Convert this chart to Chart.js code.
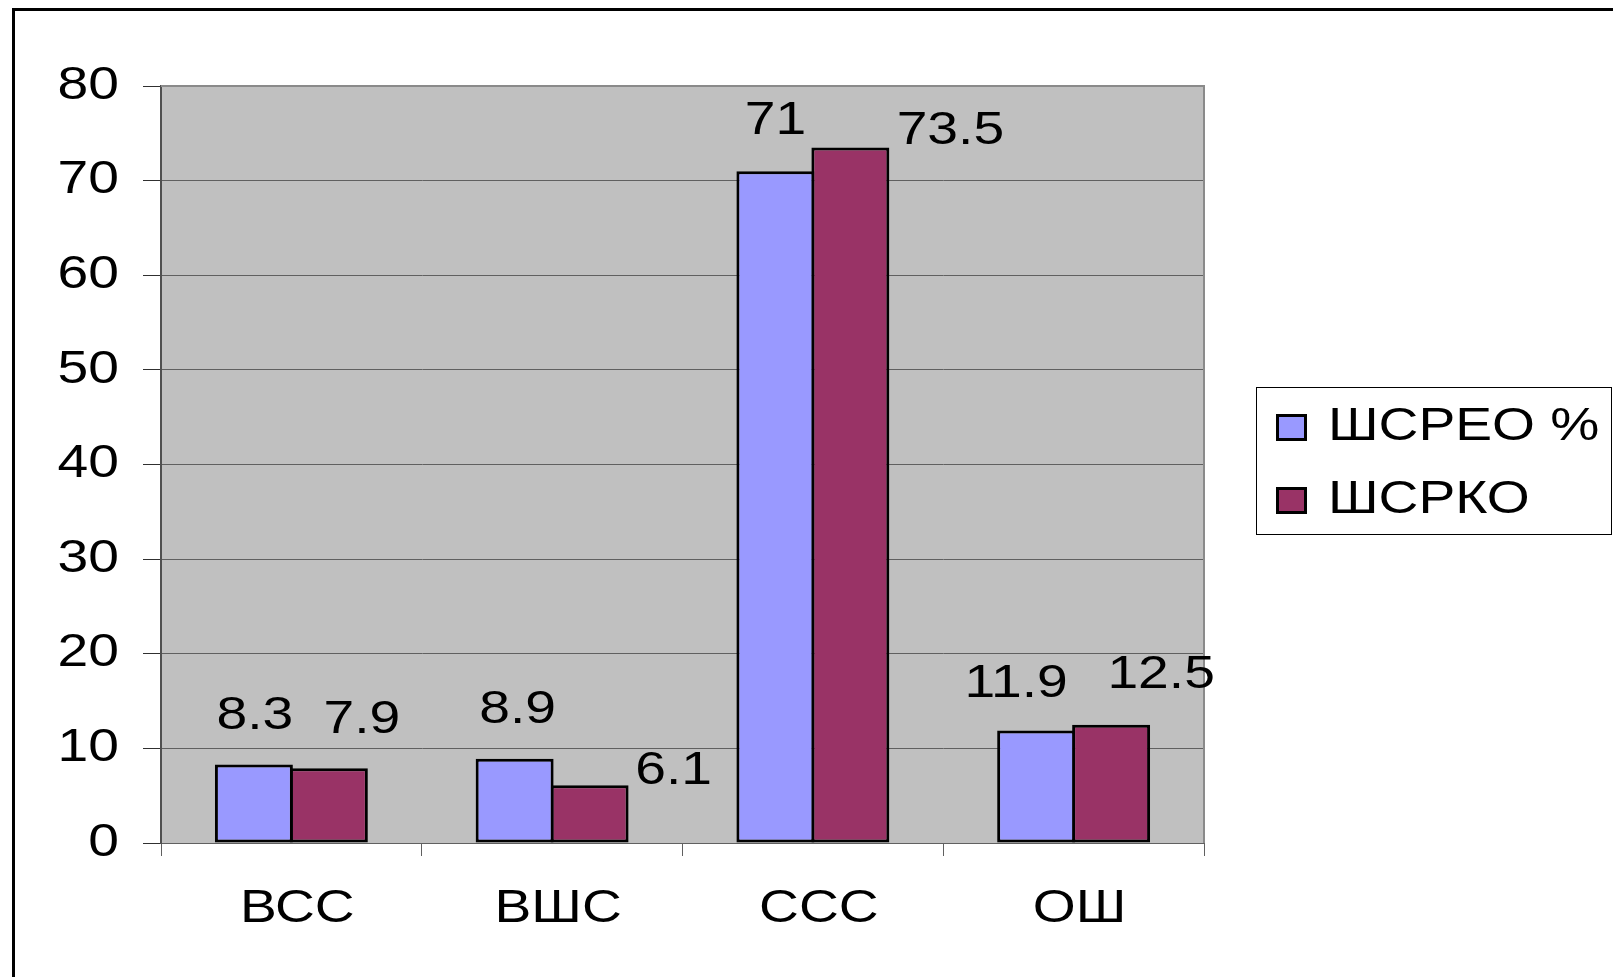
<!DOCTYPE html>
<html>
<head>
<meta charset="utf-8">
<script src="https://cdn.jsdelivr.net/npm/chart.js@4.4.1/dist/chart.umd.min.js"></script>
<style>
  html, body { margin: 0; padding: 0; background: #fff; }
  #wrap { width: 1613px; height: 977px; }
</style>
</head>
<body>
<div id="wrap"><canvas id="chart" width="1613" height="977"></canvas></div>
<script>
// Données du graphique
const categories = ['ВСС', 'ВШС', 'ССС', 'ОШ'];
const seriesNames = ['ШСРЕО %', 'ШСРКО'];
const shsreoValues = [8.3, 8.9, 71, 11.9];
const shsrkoValues = [7.9, 6.1, 73.5, 12.5];
const yMin = 0;
const yMax = 80;
const yStep = 10;

// Décalage des étiquettes de valeurs (dx, hauteur au-dessus de la barre), comme dans Excel
const labelShift = [
    [[1, 35], [3, 36], [0, 37], [-20, 33]],
    [[33, 35], [84, 1], [100, 4], [50, 37]]
];

const FONT = "'Liberation Sans', Arial, sans-serif";
const TEXT_STRETCH = 1.2; // le texte de l'original est étiré horizontalement
const colors = ['#9999FF', '#993366'];

// étirement horizontal du texte autour du point d'ancrage
function stretchText(ctx) {
    if (ctx._stretched) return;
    const orig = ctx.fillText.bind(ctx);
    ctx.fillText = function (text, x, y) {
        this.save();
        this.translate(x, y);
        this.scale(TEXT_STRETCH, 1);
        orig(text, 0, 0);
        this.restore();
    };
    ctx._stretched = true;
}

// fond gris de la zone de tracé + cadre extérieur
const backgroundPlugin = {
    id: 'backgroundPlugin',
    beforeInit(chart) {
        stretchText(chart.ctx);
    },
    beforeDraw(chart) {
        const ctx = chart.ctx;
        const a = chart.chartArea;
        ctx.save();
        ctx.fillStyle = '#fff';
        ctx.fillRect(0, 0, chart.width, chart.height);
        ctx.strokeStyle = '#000';
        ctx.lineWidth = 3;
        ctx.strokeRect(13.5, 9.5, chart.width + 50, chart.height + 50);
        ctx.fillStyle = '#C0C0C0';
        ctx.fillRect(a.left, a.top, a.right - a.left, a.bottom - a.top);
        ctx.restore();
    },
    beforeDatasetsDraw(chart) {
        const ctx = chart.ctx;
        const a = chart.chartArea;
        ctx.save();
        ctx.strokeStyle = '#8a8a8a';
        ctx.lineWidth = 2;
        ctx.beginPath();
        ctx.moveTo(a.left, a.top);
        ctx.lineTo(a.right, a.top);
        ctx.lineTo(a.right, a.bottom);
        ctx.stroke();
        ctx.restore();
    }
};

// étiquettes de valeurs au-dessus des barres
const valueLabels = {
    id: 'valueLabels',
    afterDatasetsDraw(chart) {
        const ctx = chart.ctx;
        ctx.save();
        ctx.font = '46px ' + FONT;
        ctx.fillStyle = '#000';
        ctx.textAlign = 'center';
        ctx.textBaseline = 'alphabetic';
        chart.data.datasets.forEach((ds, i) => {
            const meta = chart.getDatasetMeta(i);
            meta.data.forEach((bar, j) => {
                const [dx, dy] = labelShift[i][j];
                ctx.fillText(String(ds.data[j]), bar.x + dx, bar.y - dy);
            });
        });
        ctx.restore();
    }
};

// légende encadrée à droite
const boxLegend = {
    id: 'boxLegend',
    afterDraw(chart) {
        const ctx = chart.ctx;
        ctx.save();
        ctx.strokeStyle = '#000';
        ctx.lineWidth = 1;
        ctx.strokeRect(1256.5, 387.5, 355, 147);
        ctx.font = '46px ' + FONT;
        ctx.textBaseline = 'alphabetic';
        ctx.textAlign = 'left';
        chart.data.datasets.forEach((ds, i) => {
            const top = 414 + i * 73;
            ctx.fillStyle = ds.backgroundColor;
            ctx.fillRect(1276, top, 31, 27);
            ctx.lineWidth = 3;
            ctx.strokeStyle = '#000';
            ctx.strokeRect(1277.5, top + 1.5, 28, 24);
            ctx.fillStyle = '#000';
            ctx.fillText(ds.label, 1328, top + 26);
        });
        ctx.restore();
    }
};

const chart = new Chart(document.getElementById('chart').getContext('2d'), {
    type: 'bar',
    data: {
        labels: categories,
        datasets: [
            {
                label: seriesNames[0],
                data: shsreoValues,
                backgroundColor: colors[0],
                borderColor: '#000',
                borderWidth: 3,
                borderSkipped: false
            },
            {
                label: seriesNames[1],
                data: shsrkoValues,
                backgroundColor: colors[1],
                borderColor: '#000',
                borderWidth: 3,
                borderSkipped: false
            }
        ]
    },
    options: {
        responsive: false,
        animation: false,
        events: [],
        barPercentage: 1.04,
        categoryPercentage: 0.575,
        layout: { padding: { left: 0, top: 86, right: 409, bottom: 0 } },
        plugins: {
            legend: { display: false },
            tooltip: { enabled: false }
        },
        scales: {
            x: {
                grid: {
                    display: true,
                    drawOnChartArea: false,
                    drawTicks: true,
                    tickLength: 13,
                    color: '#606060',
                    lineWidth: 1,
                    offset: true
                },
                border: { display: true, color: '#606060', width: 1 },
                ticks: {
                    color: '#000',
                    font: { family: FONT, size: 46 },
                    padding: 26,
                    labelOffset: 6,
                    maxRotation: 0,
                    autoSkip: false
                },
                afterFit(scale) { scale.height = 134; }
            },
            y: {
                min: yMin,
                max: yMax,
                ticks: {
                    stepSize: yStep,
                    color: '#000',
                    font: { family: FONT, size: 46 },
                    padding: 24
                },
                grid: {
                    color: '#606060',
                    lineWidth: 1,
                    tickLength: 18,
                    tickColor: '#303030'
                },
                border: { display: true, color: '#505050', width: 2 },
                afterFit(scale) { scale.width = 161; }
            }
        }
    },
    plugins: [backgroundPlugin, valueLabels, boxLegend]
});
</script>
</body>
</html>
